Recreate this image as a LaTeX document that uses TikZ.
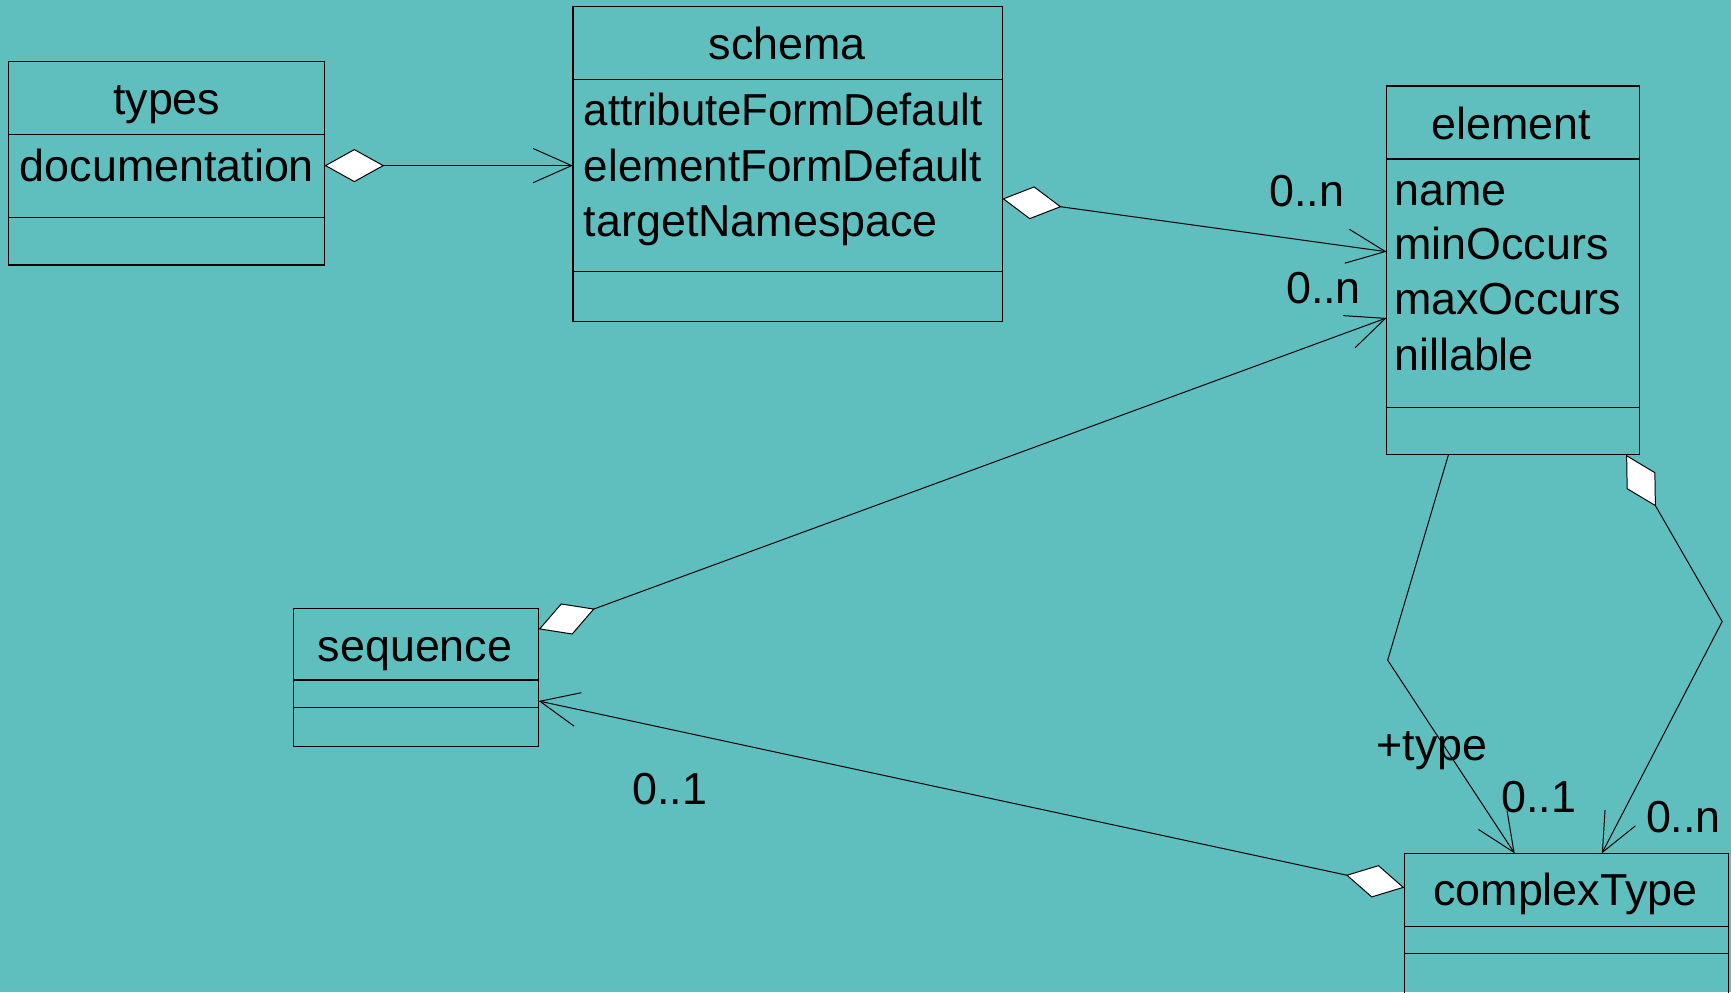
\documentclass[tikz,border=0pt]{standalone}
\usepackage{fontspec}
\setmainfont{Liberation Sans}
\usepackage{graphicx}
\usetikzlibrary{arrows.meta}
\definecolor{canvas}{RGB}{95,190,190}
\begin{document}
\begin{tikzpicture}[x=1pt,y=-1pt,
  every node/.style={inner sep=0pt, outer sep=0pt, font=\fontsize{40.6}{50}\selectfont},
  umlbox/.style={draw, line width=1.2pt, anchor=north west},
  divider/.style={line width=1.2pt},
  link/.style={line width=0.9pt},
  agg/.style={link, {Diamond[fill=white,length=54pt,width=30pt]}-{Straight Barb[length=35pt,width=31pt]}},
  nav/.style={link, -{Straight Barb[length=35pt,width=31pt]}},
  title/.style={anchor=base},
  attr/.style={anchor=base west},
  mult/.style={anchor=base west}]

% canvas
\useasboundingbox (0,0) rectangle (1568,899);
\fill[canvas] (0,0) rectangle (1568,899);
\clip (0,0) rectangle (1568,899);

% class boxes
\node[umlbox, minimum width=286pt, minimum height=184pt] (types) at (8,56) {};
\node[umlbox, minimum width=389pt, minimum height=285pt] (schema) at (519,6) {};
\node[umlbox, minimum width=229pt, minimum height=334pt] (element) at (1256,78) {};
\node[umlbox, minimum width=222pt, minimum height=125pt] (sequence) at (266,551) {};
\node[umlbox, minimum width=294pt, minimum height=170pt] (complexType) at (1272,773) {};

% compartment dividers
\draw[divider] (types.west |- 0,122) -- (types.east |- 0,122);
\draw[divider] (types.west |- 0,197) -- (types.east |- 0,197);
\draw[divider] (schema.west |- 0,72) -- (schema.east |- 0,72);
\draw[divider] (schema.west |- 0,246) -- (schema.east |- 0,246);
\draw[divider] (element.west |- 0,144) -- (element.east |- 0,144);
\draw[divider] (element.west |- 0,369) -- (element.east |- 0,369);
\draw[divider] (sequence.west |- 0,616) -- (sequence.east |- 0,616);
\draw[divider] (sequence.west |- 0,641) -- (sequence.east |- 0,641);
\draw[divider] (complexType.west |- 0,839) -- (complexType.east |- 0,839);
\draw[divider] (complexType.west |- 0,864) -- (complexType.east |- 0,864);

% class names
\node[title] (types-name) at (151,104) {types};
\node[title] (schema-name) at (713,54) {schema};
\node[title] (element-name) at (1369,126) {element};
\node[title] (sequence-name) at (376,599) {sequence};
\node[title] (complexType-name) at (1418,820) {complexType};

% attributes
\node[attr] (types-a1) at (18,164.6) {documentation};
\node[attr] (schema-a1) at (529,114) {\scalebox{0.975}[1]{attributeFormDefault}};
\node[attr] (schema-a2) at (529,164.6) {\scalebox{0.98}[1]{elementFormDefault}};
\node[attr] (schema-a3) at (529,214.4) {targetNamespace};
\node[attr] (element-a1) at (1263,186.3) {name};
\node[attr] (element-a2) at (1263,235.5) {minOccurs};
\node[attr] (element-a3) at (1263,285.3) {maxOccurs};
\node[attr] (element-a4) at (1263,335.8) {nillable};

% bend points of the element -> complexType links
\coordinate (bendL) at (1257,598);
\coordinate (bendR) at (1560,563);

% associations
\draw[agg] (types.east |- 0,150) -- (schema.west |- 0,150);
\draw[agg] (schema.east |- 0,180) -- (element.west |- 0,228);
\draw[agg] (sequence.east |- 0,570) -- (element.west |- 0,288);
\draw[nav] (element.south -| 1312,0) -- (bendL) -- (complexType.north -| 1372,0);
\draw[agg] (element.south -| 1473,0) -- (bendR) -- (complexType.north -| 1451,0);
\draw[agg] (complexType.west |- 0,804) -- (sequence.east |- 0,635);

% role names and multiplicities
\node[mult] (m-schema-element) at (1150,187) {0..n};
\node[mult] (m-sequence-element) at (1165,275) {0..n};
\node[mult] (role-type) at (1247,689) {+type};
\node[mult] (m-type) at (1360,736) {0..1};
\node[mult] (m-element-ct) at (1491,754.5) {0..n};
\node[mult] (m-ct-sequence) at (573,729) {0..1};
\end{tikzpicture}
\end{document}
